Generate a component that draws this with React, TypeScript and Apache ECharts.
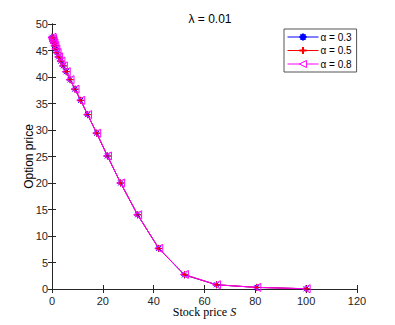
import React, { useEffect, useRef } from "react";
import * as echarts from "echarts";

const stockPrices = [0, 0.2, 0.45, 0.75, 1.1, 1.5, 2.0, 2.6, 3.5, 4.45, 5.6, 7.1, 9.05, 11.3, 14.0, 17.6, 21.8, 27.0, 33.7, 42.0, 52.1, 64.7, 80.6, 100];
const priceAlpha03 = [47.5, 47.2, 46.8, 46.4, 45.9, 45.3, 44.6, 43.8, 43.0, 42.1, 41.0, 39.5, 37.7, 35.6, 32.9, 29.4, 25.1, 20.0, 14.0, 7.66, 2.65, 0.8, 0.3, 0.05];
const priceAlpha05 = [47.5, 47.2, 46.8, 46.4, 45.9, 45.3, 44.6, 43.8, 43.0, 42.1, 41.0, 39.5, 37.7, 35.6, 32.9, 29.4, 25.1, 20.0, 14.0, 7.66, 2.7, 0.8, 0.3, 0.05];
const priceAlpha08 = [47.5, 47.2, 46.8, 46.4, 45.9, 45.3, 44.6, 43.8, 43.0, 42.1, 41.0, 39.5, 37.7, 35.6, 32.9, 29.4, 25.1, 20.0, 14.0, 7.66, 2.75, 0.8, 0.3, 0.05];
const seriesNames = ["α = 0.3", "α = 0.5", "α = 0.8"];

const ASTERISK = "path://M0,-5L0,5M-5,0L5,0M-3.6,-3.6L3.6,3.6M-3.6,3.6L3.6,-3.6";
const PLUS = "path://M0,-5L0,5M-5,0L5,0";
const TRI_LEFT = "path://M-5,0L4,-5L4,5Z";

const AX = "#262626";
const SANS = "Liberation Sans, Arial, sans-serif";
const SERIF = "Liberation Serif, DejaVu Serif, serif";

export default function App() {
  const ref = useRef<HTMLDivElement>(null);
  useEffect(() => {
    if (!ref.current) return;
    const chart = echarts.init(ref.current, undefined, { renderer: "svg" });
    const mk = (vals: number[]) => stockPrices.map((s, i) => [s, vals[i]]);
    const axisCommon = {
      axisLine: { show: true, lineStyle: { color: AX, width: 1 } },
      axisTick: { show: true, inside: true, length: 4, lineStyle: { color: AX } },
      splitLine: { show: false },
    };
    chart.setOption({
      animation: false,
      backgroundColor: "#ffffff",
      title: {
        text: "λ = 0.01",
        left: 205,
        top: 8,
        textAlign: "center",
        textStyle: { fontFamily: SANS, fontSize: 12, fontWeight: "normal", color: "#000" },
      },
      legend: {
        data: [
          { name: seriesNames[0] },
          { name: seriesNames[1] },
          { name: seriesNames[2], itemStyle: { color: "#ffffff", borderColor: "#ff00ff", borderWidth: 1 } },
        ],
        orient: "vertical",
        left: 284,
        top: 29,
        itemWidth: 31,
        itemHeight: 9,
        itemGap: 3.5,
        padding: [3, 5, 3, 3],
        borderColor: "#555",
        borderWidth: 1,
        backgroundColor: "#fff",
        lineStyle: { width: 1 },
        textStyle: { fontFamily: SANS, fontSize: 10, color: "#000", padding: [0, 0, 0, -3] },
      },
      grid: { left: 52, right: 38, top: 24, bottom: 36, containLabel: false },
      xAxis: [
        {
          type: "value",
          min: 0,
          max: 120,
          interval: 20,
          position: "bottom",
          ...axisCommon,
          axisLabel: { color: AX, fontFamily: SANS, fontSize: 11, margin: 6 },
          name: "{a|Stock price }{b|S}",
          nameLocation: "middle",
          nameGap: 17,
          nameMoveOverlap: false,
          nameTextStyle: {
            rich: {
              a: { fontFamily: SERIF, fontSize: 12, color: "#000" },
              b: { fontFamily: SERIF, fontSize: 12, fontStyle: "italic", color: "#000" },
            },
          },
        },
        {
          type: "value",
          min: 0,
          max: 120,
          interval: 20,
          position: "top",
          ...axisCommon,
          axisLabel: { show: false },
        },
      ],
      yAxis: [
        {
          type: "value",
          min: 0,
          max: 50,
          interval: 5,
          position: "left",
          ...axisCommon,
          axisLabel: { color: AX, fontFamily: SANS, fontSize: 11, margin: 4 },
          name: "Option price",
          nameLocation: "middle",
          nameGap: 17,
          nameMoveOverlap: false,
          nameTextStyle: { fontFamily: SANS, fontSize: 12, color: "#000" },
        },
        {
          type: "value",
          min: 0,
          max: 50,
          interval: 5,
          position: "right",
          ...axisCommon,
          axisLabel: { show: false },
        },
      ],
      series: [
        {
          name: seriesNames[0],
          type: "line",
          data: mk(priceAlpha03),
          symbol: ASTERISK,
          symbolSize: 7,
          lineStyle: { color: "#0000ff", width: 1 },
          itemStyle: { color: "#0000ff", borderColor: "#0000ff", borderWidth: 1 },
        },
        {
          name: seriesNames[1],
          type: "line",
          data: mk(priceAlpha05),
          symbol: PLUS,
          symbolSize: 7,
          lineStyle: { color: "#ff0000", width: 1 },
          itemStyle: { color: "#ff0000", borderColor: "#ff0000", borderWidth: 1 },
        },
        {
          name: seriesNames[2],
          type: "line",
          data: mk(priceAlpha08),
          symbol: TRI_LEFT,
          symbolSize: 8,
          lineStyle: { color: "#ff00ff", width: 1 },
          itemStyle: { color: "none", borderColor: "#ff00ff", borderWidth: 1 },
        },
      ],
    });
    return () => chart.dispose();
  }, []);
  return <div ref={ref} style={{ width: 395, height: 325, position: "absolute", left: 0, top: 0 }} />;
}
